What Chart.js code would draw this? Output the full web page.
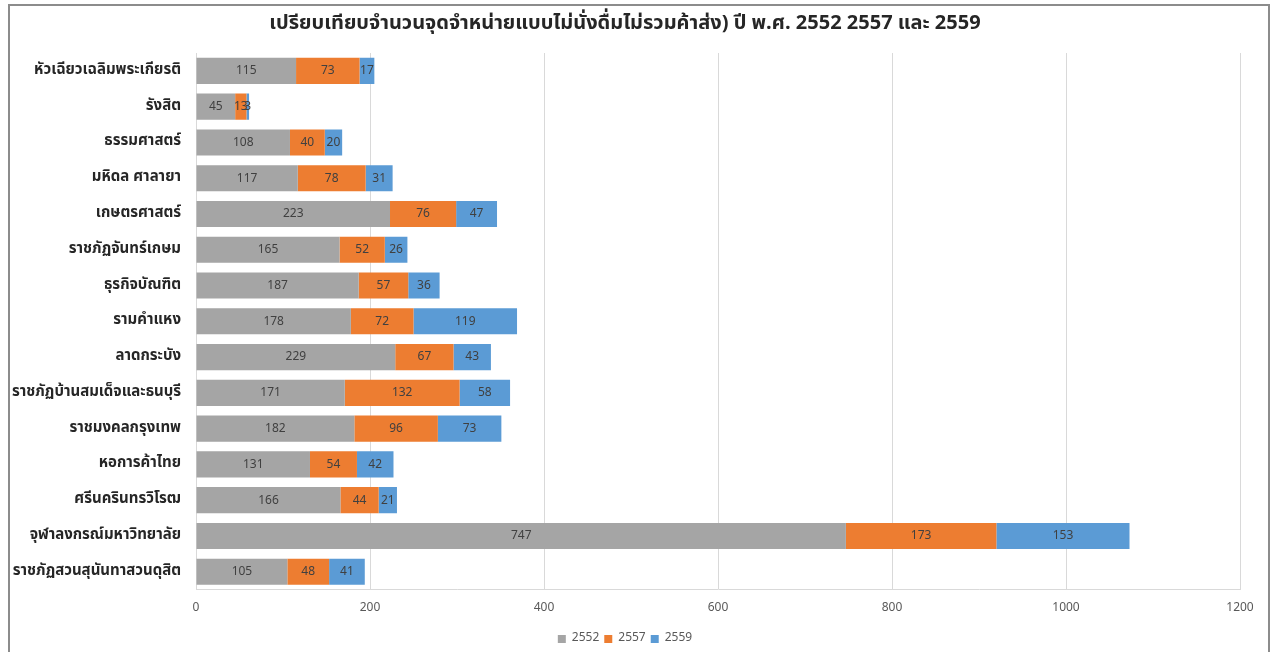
<!DOCTYPE html>
<html>
<head>
<meta charset="utf-8">
<script src="https://cdn.jsdelivr.net/npm/chart.js@4"></script>
<style>
  body { margin: 0; background: #fff; }
  #wrap { position: relative; width: 1278px; height: 652px; }
  #frame { position: absolute; left: 8px; top: 4px; width: 1258px; height: 660px;
           border: 2px solid #8c8c8c; pointer-events: none; }
</style>
</head>
<body>
<div id="wrap">
  <canvas id="uniChart" width="1278" height="652"></canvas>
  <div id="frame"></div>
</div>
<script>
const categories = [
    "หัวเฉียวเฉลิมพระเกียรติ",
    "รังสิต",
    "ธรรมศาสตร์",
    "มหิดล ศาลายา",
    "เกษตรศาสตร์",
    "ราชภัฏจันทร์เกษม",
    "ธุรกิจบัณฑิต",
    "รามคำแหง",
    "ลาดกระบัง",
    "ราชภัฏบ้านสมเด็จและธนบุรี",
    "ราชมงคลกรุงเทพ",
    "หอการค้าไทย",
    "ศรีนครินทรวิโรฒ",
    "จุฬาลงกรณ์มหาวิทยาลัย",
    "ราชภัฏสวนสุนันทาสวนดุสิต"
];
const values2552 = [115, 45, 108, 117, 223, 165, 187, 178, 229, 171, 182, 131, 166, 747, 105];
const values2557 = [73, 13, 40, 78, 76, 52, 57, 72, 67, 132, 96, 54, 44, 173, 48];
const values2559 = [17, 3, 20, 31, 47, 26, 36, 119, 43, 58, 73, 42, 21, 153, 41];
const xTicks = [0, 200, 400, 600, 800, 1000, 1200];

const fontFam = "'Noto Sans Thai', 'Tahoma', 'DejaVu Sans', sans-serif";

// draw the value in the middle of each bar piece
const barLabels = {
    id: "barLabels",
    afterDatasetsDraw(chart) {
        const ctx = chart.ctx;
        ctx.save();
        ctx.font = "12px " + fontFam;
        ctx.fillStyle = "#404040";
        ctx.textAlign = "center";
        ctx.textBaseline = "middle";
        chart.data.datasets.forEach((ds, i) => {
            chart.getDatasetMeta(i).data.forEach((bar, j) => {
                const p = bar.getCenterPoint();
                ctx.fillText(ds.data[j], p.x, p.y + 1);
            });
        });
        ctx.restore();
    }
};

new Chart(document.getElementById("uniChart"), {
    type: "bar",
    data: {
        labels: categories,
        datasets: [
            { label: "2552", data: values2552, backgroundColor: "#A5A5A5" },
            { label: "2557", data: values2557, backgroundColor: "#ED7D31" },
            { label: "2559", data: values2559, backgroundColor: "#5B9BD5" }
        ]
    },
    options: {
        indexAxis: "y",
        responsive: false,
        animation: false,
        categoryPercentage: 1,
        barPercentage: 0.73,
        layout: { padding: { left: 10, right: 38, top: 7, bottom: -3 } },
        scales: {
            x: {
                stacked: true,
                min: 0,
                max: 1200,
                afterBuildTicks(scale) { scale.ticks = xTicks.map(v => ({ value: v })); },
                grid: { color: "#D9D9D9", drawTicks: false },
                border: { display: true, color: "#D9D9D9" },
                ticks: { color: "#595959", font: { size: 12, family: fontFam }, padding: 12,
                         callback: v => String(v) }
            },
            y: {
                stacked: true,
                afterFit(scale) { scale.width = 186; },
                grid: { display: false },
                border: { color: "#D9D9D9" },
                ticks: { color: "#262626", font: { size: 15, weight: "bold", family: fontFam }, padding: 7 }
            }
        },
        plugins: {
            title: {
                display: true,
                text: "เปรียบเทียบจำนวนจุดจำหน่ายแบบไม่นั่งดื่มไม่รวมค้าส่ง) ปี พ.ศ. 2552 2557 และ 2559",
                color: "#262626",
                font: { size: 20, weight: "bold", family: fontFam },
                padding: { top: 6, bottom: 16 }
            },
            legend: {
                position: "bottom",
                labels: { boxWidth: 8, boxHeight: 8, color: "#595959", padding: 5, font: { size: 12, family: fontFam } }
            },
            tooltip: { enabled: false }
        }
    },
    plugins: [barLabels]
});
</script>
</body>
</html>
